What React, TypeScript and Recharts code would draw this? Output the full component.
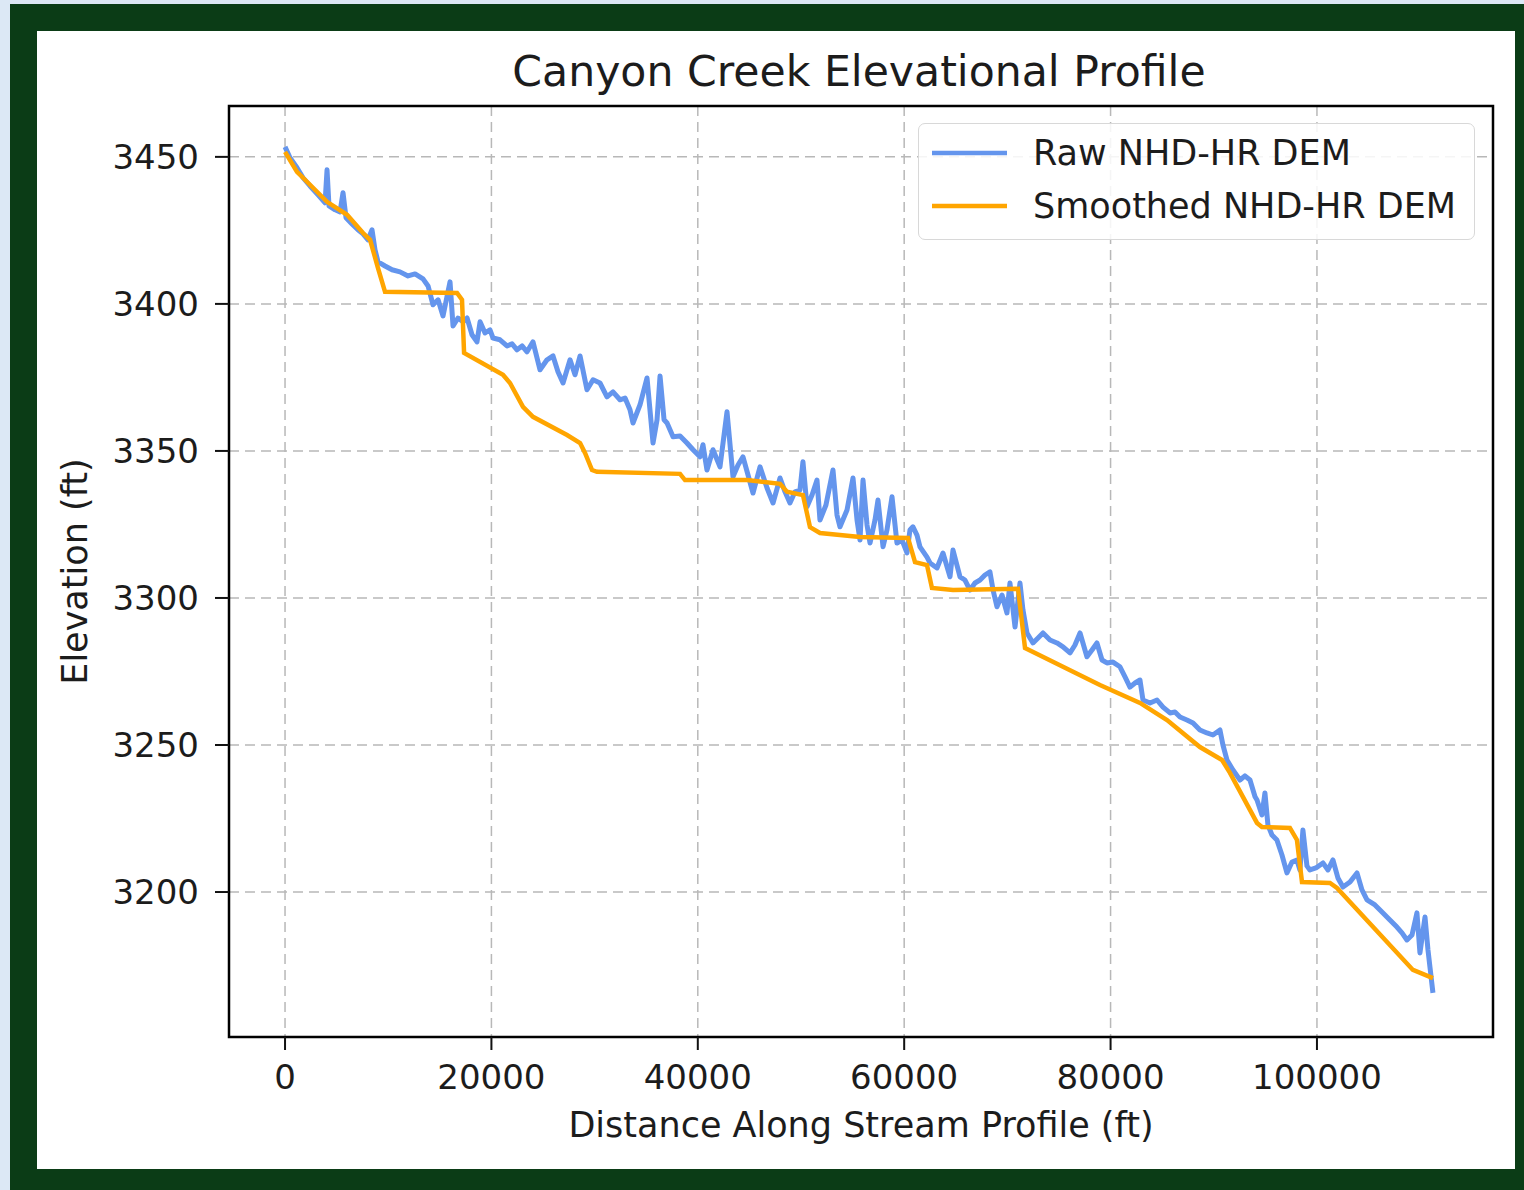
import { LineChart, Line, XAxis, YAxis, CartesianGrid, Legend, ReferenceArea, Label } from 'recharts';

// Raw NHD-HR DEM profile (distance ft, elevation ft)
const rawDistance = [
  0, 480, 1160, 1740, 2420, 3200, 3880, 4070, 4260, 4850, 5330, 5620, 5910, 6490, 7070, 7560, 8040, 8430, 8720, 9010,
  9690, 10370, 11140, 11920, 12600, 13370, 13860, 14340, 14830, 15310, 15990, 16280, 16760, 17250, 17640, 18120, 18600, 18900, 19380, 19860,
  20160, 20830, 21510, 22000, 22480, 22970, 23450, 24030, 24710, 25390, 25970, 26450, 26940, 27620, 28100, 28590, 29260, 29850, 30520, 31200,
  31780, 32460, 32950, 33430, 33720, 34400, 35080, 35660, 36050, 36340, 36730, 37020, 37600, 38280, 38950, 39540, 40210, 40500, 40890, 41470,
  42150, 42830, 43410, 43900, 44380, 44860, 45350, 46030, 46710, 47290, 47970, 48450, 48930, 49420, 49900, 50190, 50580, 51070, 51550, 51840,
  52420, 53100, 53490, 53780, 54460, 55040, 55430, 55720, 56010, 56400, 56690, 57170, 57460, 57950, 58330, 58820, 59300, 59790, 60270, 60560,
  60850, 61240, 61530, 62210, 62500, 63180, 63760, 64440, 64730, 65410, 65890, 66380, 66860, 67350, 67830, 68310, 68610, 68990, 69480, 69960,
  70250, 70740, 71220, 71510, 71900, 72480, 72970, 73450, 74130, 74810, 75390, 76070, 76550, 77040, 77710, 78200, 78680, 79170, 79650, 80230,
  80910, 81400, 81880, 82370, 82850, 83140, 83820, 84500, 85080, 85760, 86240, 86730, 87400, 87990, 88660, 89340, 89920, 90600, 90890, 91280,
  91860, 92540, 93020, 93510, 94000, 94190, 94670, 94960, 95250, 95640, 96120, 96610, 97090, 97580, 98060, 98350, 98640, 99030, 99320, 99900,
  100580, 101070, 101550, 102030, 102520, 103200, 103880, 104360, 104850, 105620, 106400, 107070, 107750, 108240, 108720, 109210, 109690, 109980, 110470, 110760,
  110950, 111240,
];
const rawElevation = [
  3453.4, 3449.7, 3446.3, 3442.9, 3440.1, 3437.1, 3434.4, 3445.6, 3433.3, 3432.0, 3431.3, 3437.8, 3429.3, 3427.2, 3425.2, 3423.8, 3421.8, 3425.2, 3418.4, 3414.3,
  3412.9, 3411.6, 3410.9, 3409.5, 3410.2, 3408.5, 3406.1, 3399.7, 3401.4, 3395.9, 3407.5, 3392.5, 3395.2, 3393.9, 3395.2, 3389.5, 3387.1, 3393.9, 3390.1, 3391.2,
  3388.4, 3387.8, 3385.7, 3386.4, 3384.4, 3385.7, 3383.7, 3387.1, 3377.6, 3381.0, 3382.3, 3376.9, 3373.1, 3381.0, 3375.9, 3382.3, 3370.8, 3374.2, 3373.1, 3368.4,
  3370.1, 3367.4, 3368.0, 3364.0, 3359.5, 3365.7, 3374.8, 3352.7, 3360.6, 3375.5, 3360.6, 3359.5, 3354.8, 3355.1, 3352.7, 3350.4, 3348.0, 3352.1, 3343.5, 3350.4,
  3344.6, 3363.3, 3341.2, 3345.2, 3348.0, 3341.9, 3335.7, 3344.6, 3337.4, 3332.3, 3340.8, 3336.1, 3332.3, 3336.1, 3336.7, 3346.3, 3331.0, 3335.0, 3340.1, 3326.5,
  3331.6, 3343.5, 3328.2, 3324.2, 3329.9, 3340.8, 3326.5, 3319.7, 3340.1, 3324.8, 3318.7, 3326.5, 3333.3, 3317.4, 3323.1, 3334.4, 3318.7, 3319.7, 3315.3, 3323.1,
  3324.2, 3321.4, 3317.4, 3313.9, 3311.9, 3310.2, 3315.3, 3307.2, 3316.3, 3307.2, 3306.1, 3302.7, 3305.1, 3306.1, 3307.8, 3308.9, 3302.7, 3297.0, 3301.0, 3294.9,
  3305.1, 3290.1, 3305.1, 3295.9, 3288.1, 3284.7, 3286.4, 3288.1, 3285.7, 3284.7, 3283.4, 3281.3, 3284.0, 3288.1, 3280.0, 3282.3, 3284.7, 3278.9, 3277.9, 3278.2,
  3276.6, 3273.2, 3269.7, 3271.1, 3272.1, 3265.3, 3264.3, 3265.3, 3262.9, 3260.9, 3261.2, 3259.5, 3258.5, 3257.5, 3255.1, 3254.1, 3253.4, 3255.1, 3250.0, 3244.9,
  3241.5, 3238.1, 3239.5, 3238.1, 3232.4, 3231.3, 3226.2, 3233.7, 3222.8, 3219.4, 3217.7, 3212.6, 3206.5, 3210.2, 3210.9, 3207.5, 3221.1, 3208.9, 3207.5, 3208.2,
  3209.9, 3207.5, 3210.9, 3204.8, 3201.7, 3203.4, 3206.5, 3200.7, 3197.3, 3195.6, 3192.9, 3190.5, 3188.1, 3186.1, 3183.7, 3185.4, 3192.9, 3179.3, 3191.5, 3180.3,
  3174.5, 3165.7,
];

// Smoothed NHD-HR DEM profile
const smoothDistance = [
  0, 1160, 1740, 4070, 6010, 7560, 8240, 9010, 9690, 16670, 17150, 17350, 21120, 21800, 23060, 24030, 27330, 28590, 29070, 29750,
  30230, 38280, 38760, 44770, 47970, 48640, 50190, 50870, 51840, 55720, 60370, 61050, 62210, 62690, 64730, 71030, 71710, 78970, 82850, 85470,
  88660, 90800, 91570, 94190, 94670, 97380, 98060, 98550, 101260, 101940, 109300, 111240,
];
const smoothElevation = [
  3451.7, 3444.9, 3442.9, 3434.7, 3430.3, 3424.1, 3421.8, 3412.2, 3404.1, 3403.7, 3401.4, 3383.3, 3375.9, 3373.1, 3365.0, 3361.6, 3355.4, 3352.7, 3349.3, 3343.5,
  3342.9, 3342.2, 3340.1, 3340.1, 3338.8, 3336.1, 3335.0, 3324.1, 3322.1, 3320.7, 3320.4, 3312.2, 3311.2, 3303.4, 3302.7, 3303.1, 3283.0, 3270.4, 3264.3, 3258.5,
  3249.3, 3244.9, 3240.5, 3223.5, 3222.1, 3221.8, 3217.7, 3203.4, 3203.1, 3201.4, 3173.5, 3170.7,
];

const xTicks = [0, 20000, 40000, 60000, 80000, 100000];
const yTicks = [3200, 3250, 3300, 3350, 3400, 3450];
const xDomain = [-5430, 117060];
const yDomain = [3150.7, 3467.3];

const seriesNames = ['Raw NHD-HR DEM', 'Smoothed NHD-HR DEM'];
const seriesColors = ['#6495ED', '#FFA500'];

const rawData = rawDistance.map((x, i) => ({ x, y: rawElevation[i] }));
const smoothData = smoothDistance.map((x, i) => ({ x, y: smoothElevation[i] }));

const FONT = '"DejaVu Sans", sans-serif';
const TEXT = '#1c1c1c';

function LegendBox() {
  return (
    <div
      style={{
        boxSizing: 'border-box',
        width: 557,
        height: 117,
        border: '1.5px solid #d8d8d8',
        borderRadius: 7,
        background: 'rgba(255,255,255,0.85)',
        position: 'relative',
        fontFamily: FONT,
        fontSize: 35,
        color: TEXT,
      }}
    >
      {seriesNames.map((name, i) => (
        <div
          key={name}
          style={{ position: 'absolute', left: 0, top: 9 + i * 53, height: 40, display: 'flex', alignItems: 'center', whiteSpace: 'nowrap' }}
        >
          <svg width={89} height={10} style={{ display: 'block' }}>
            <line x1={13} x2={88} y1={5} y2={5} stroke={seriesColors[i]} strokeWidth={4.5} />
          </svg>
          <span style={{ marginLeft: 25, lineHeight: '40px' }}>{name}</span>
        </div>
      ))}
    </div>
  );
}

export default function App() {
  const tickStyle = { fontSize: 34, fill: TEXT, fontFamily: FONT };
  return (
    <div style={{ position: 'absolute', left: 0, top: 0, width: 1524, height: 1190, background: '#dce8f5', overflow: 'hidden' }}>
      <div style={{ position: 'absolute', left: 10, top: 4, width: 1514, height: 1186, background: '#0b3c16' }} />
      <div style={{ position: 'absolute', left: 37, top: 31, width: 1478, height: 1138, background: '#ffffff' }}>
        <LineChart width={1478} height={1138} margin={{ top: 75, right: 22, bottom: 0, left: 0 }}>
          <text x={822} y={55} textAnchor="middle" fontSize={42.6} fontFamily={FONT} fill={TEXT}>
            Canyon Creek Elevational Profile
          </text>
          <CartesianGrid stroke="#b8b8b8" strokeWidth={1.5} strokeDasharray="10 6" />
          <XAxis
            dataKey="x"
            type="number"
            domain={xDomain}
            ticks={xTicks}
            allowDataOverflow
            height={132}
            axisLine={false}
            tickLine={{ stroke: '#111', strokeWidth: 2 }}
            tickSize={13}
            tickMargin={15}
            tick={tickStyle}
          >
            <Label value="Distance Along Stream Profile (ft)" position="insideBottom" offset={32} fontSize={35} fontFamily={FONT} fill={TEXT} />
          </XAxis>
          <YAxis
            dataKey="y"
            type="number"
            domain={yDomain}
            ticks={yTicks}
            allowDataOverflow
            width={192}
            axisLine={false}
            tickLine={{ stroke: '#111', strokeWidth: 2 }}
            tickSize={14}
            tickMargin={16}
            tick={tickStyle}
          >
            <Label
              value="Elevation (ft)"
              angle={-90}
              position="insideLeft"
              offset={38}
              fontSize={35}
              fontFamily={FONT}
              fill={TEXT}
              style={{ textAnchor: 'middle' }}
            />
          </YAxis>
          <Line
            data={rawData}
            dataKey="y"
            name={seriesNames[0]}
            type="linear"
            stroke={seriesColors[0]}
            strokeWidth={5}
            strokeLinejoin="round"
            dot={false}
            isAnimationActive={false}
          />
          <Line
            data={smoothData}
            dataKey="y"
            name={seriesNames[1]}
            type="linear"
            stroke={seriesColors[1]}
            strokeWidth={4.5}
            dot={false}
            isAnimationActive={false}
          />
          <ReferenceArea
            x1={xDomain[0]}
            x2={xDomain[1]}
            y1={yDomain[0]}
            y2={yDomain[1]}
            ifOverflow="visible"
            fill="none"
            stroke="#000"
            strokeWidth={2.5}
          />
          <Legend
            layout="horizontal"
            verticalAlign="middle"
            align="center"
            wrapperStyle={{ left: 881, top: 92, width: 557, height: 117 }}
            content={() => <LegendBox />}
          />
        </LineChart>
      </div>
    </div>
  );
}
